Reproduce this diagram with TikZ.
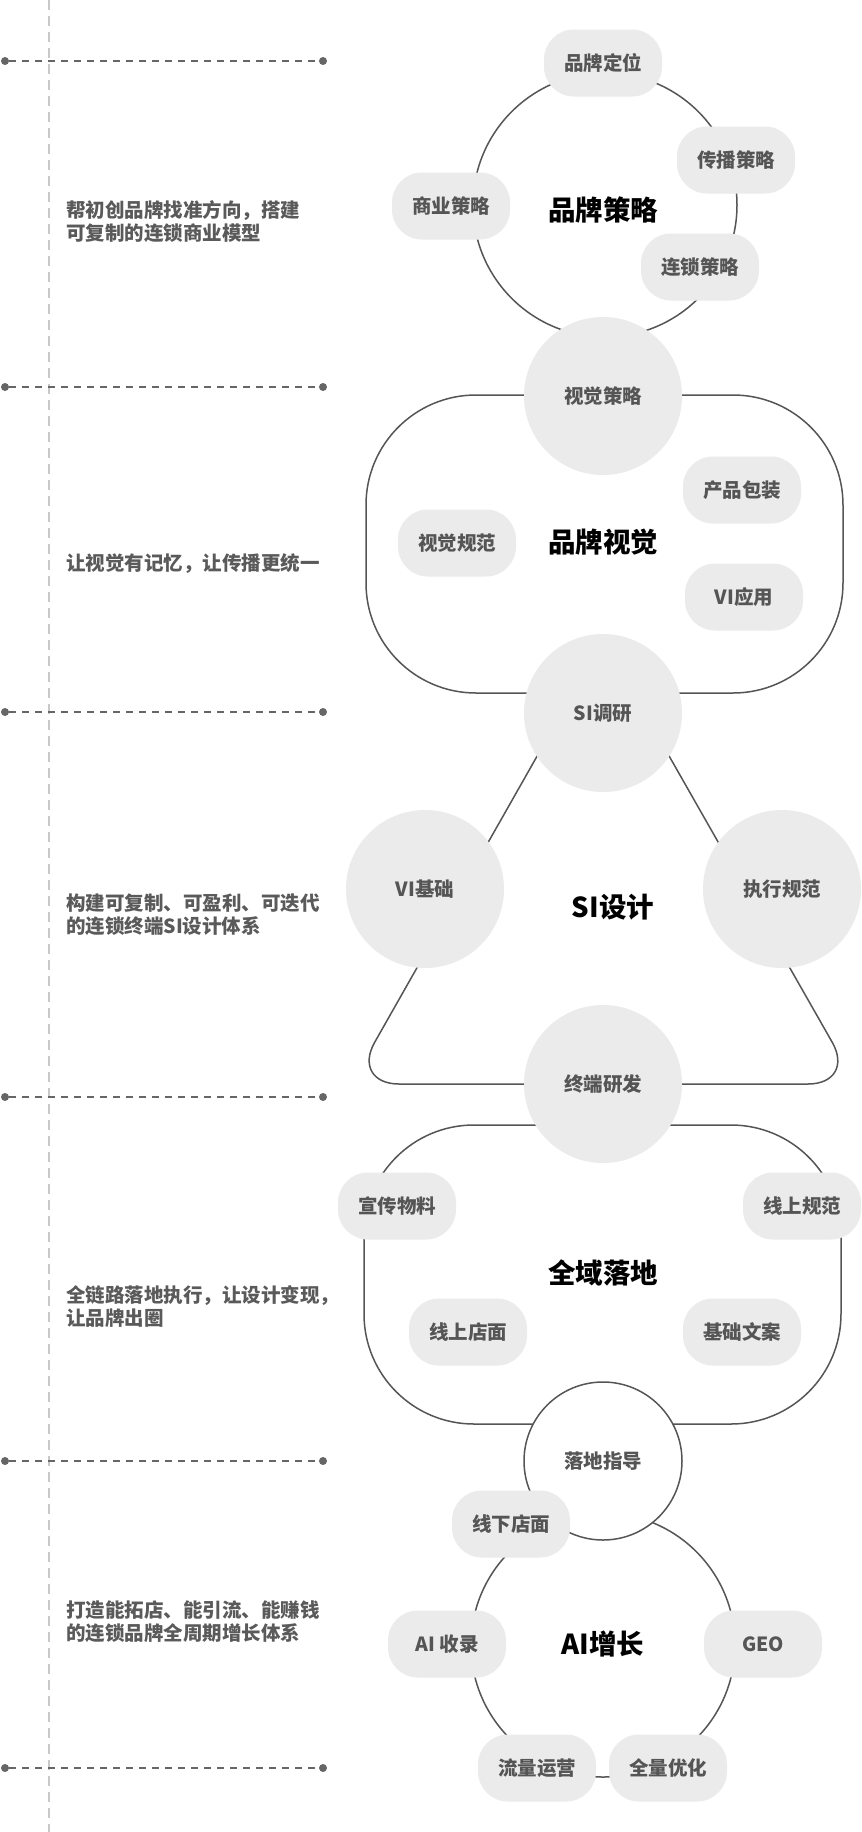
\documentclass[tikz,border=0pt]{standalone}
\usepackage{fontspec}
\setmainfont{Noto Sans CJK SC}
\definecolor{ringgray}{HTML}{555555}
\definecolor{pillgray}{HTML}{EBEBEB}
\definecolor{textgray}{HTML}{555555}
\definecolor{notegray}{HTML}{5A5A5A}
\definecolor{guidegray}{HTML}{666666}
\definecolor{axisgray}{HTML}{C8C8C8}
\tikzset{
	pillnode/.style={rectangle, fill=pillgray, rounded corners=30pt, minimum width=118pt, minimum height=67pt, inner sep=0pt, text=textgray, font=\fontsize{19.5}{23}\selectfont\bfseries},
	bignode/.style={circle, fill=pillgray, minimum size=158pt, inner sep=0pt, text=textgray, font=\fontsize{19.5}{23}\selectfont\bfseries},
	titletext/.style={inner sep=0pt, text=black, font=\fontsize{27.5}{32}\selectfont\bfseries},
	sidenote/.style={anchor=west, align=left, inner sep=0pt, text=notegray, font=\fontsize{19.5}{23}\selectfont\bfseries},
	ringline/.style={draw=ringgray, line width=1.5pt},
	guideline/.style={draw=guidegray, line width=2pt, dash pattern=on 7pt off 6pt},
	guidedot/.style={circle, fill=guidegray, minimum size=8pt, inner sep=0pt},
}
\begin{document}
\begin{tikzpicture}[x=1pt, y=-1pt]
	\useasboundingbox[fill=white] (0,0) rectangle (862,1832);
	% left axis
	\coordinate (axtop) at (49,0);
	\coordinate (axbot) at (49,1832);
	\draw[axisgray, line width=1.5pt, dash pattern=on 10pt off 6pt] (axtop)--(axbot);
	% guide lines
	\node[guidedot] (g1a) at (5,61) {};    \node[guidedot] (g1b) at (323,61) {};
	\node[guidedot] (g2a) at (5,387) {};   \node[guidedot] (g2b) at (323,387) {};
	\node[guidedot] (g3a) at (5,712) {};   \node[guidedot] (g3b) at (323,712) {};
	\node[guidedot] (g4a) at (5,1097) {};  \node[guidedot] (g4b) at (323,1097) {};
	\node[guidedot] (g5a) at (5,1461) {};  \node[guidedot] (g5b) at (323,1461) {};
	\node[guidedot] (g6a) at (5,1768) {};  \node[guidedot] (g6b) at (323,1768) {};
	\draw[guideline] (g1a)--(g1b);
	\draw[guideline] (g2a)--(g2b);
	\draw[guideline] (g3a)--(g3b);
	\draw[guideline] (g4a)--(g4b);
	\draw[guideline] (g5a)--(g5b);
	\draw[guideline] (g6a)--(g6b);
	% side notes
	\node[sidenote] (n1) at (66,222) {帮初创品牌找准方向，搭建\\可复制的连锁商业模型};
	\node[sidenote] (n2) at (66,564) {让视觉有记忆，让传播更统一};
	\node[sidenote] (n3) at (66,915) {构建可复制、可盈利、可迭代\\的连锁终端SI设计体系};
	\node[sidenote] (n4) at (66,1306) {全链路落地执行，让设计变现，\\让品牌出圈};
	\node[sidenote] (n5) at (66,1622) {打造能拓店、能引流、能赚钱\\的连锁品牌全周期增长体系};
	% outlines
	\node[ringline, circle, minimum size=264pt, inner sep=0pt] (ring1) at (605,205) {};
	\node[ringline, rectangle, rounded corners=110pt, minimum width=477pt, minimum height=298pt, inner sep=0pt] (box2) at (604.5,544) {};
	\coordinate (tri1) at (603,640);
	\coordinate (tri2) at (351,1084);
	\coordinate (tri3) at (856,1084);
	\draw[ringline, rounded corners=48pt] (tri1)--(tri2)--(tri3)--cycle;
	\node[ringline, rectangle, rounded corners=110pt, minimum width=477pt, minimum height=299pt, inner sep=0pt] (box4) at (602.5,1274.5) {};
	\node[ringline, circle, minimum size=264pt, inner sep=0pt] (ring5) at (603,1645) {};
	\node[ringline, circle, fill=white, minimum size=158pt, inner sep=0pt, text=textgray, font=\fontsize{19.5}{23}\selectfont\bfseries] (guide) at (603,1461) {落地指导};
	% part 1
	\node[pillnode] (p11) at (603,63) {品牌定位};
	\node[pillnode] (p12) at (736,160) {传播策略};
	\node[pillnode] (p13) at (451,206) {商业策略};
	\node[pillnode] (p14) at (700,267) {连锁策略};
	\node[titletext] (t1) at (603,210) {品牌策略};
	% part 2
	\node[bignode] (c21) at (603,396) {视觉策略};
	\node[pillnode] (p21) at (742,490) {产品包装};
	\node[pillnode] (p22) at (457,543) {视觉规范};
	\node[pillnode] (p23) at (744,597) {VI应用};
	\node[titletext] (t2) at (603,542) {品牌视觉};
	% part 3
	\node[bignode] (c31) at (603,713) {SI调研};
	\node[bignode] (c32) at (425,889) {VI基础};
	\node[bignode] (c33) at (782,889) {执行规范};
	\node[bignode] (c34) at (603,1084) {终端研发};
	\node[titletext] (t3) at (613,907) {SI设计};
	% part 4
	\node[pillnode] (p41) at (397,1206) {宣传物料};
	\node[pillnode] (p42) at (802,1206) {线上规范};
	\node[pillnode] (p43) at (468,1332) {线上店面};
	\node[pillnode] (p44) at (742,1332) {基础文案};
	\node[titletext] (t4) at (603,1273) {全域落地};
	% part 5
	\node[pillnode] (p51) at (511,1524) {线下店面};
	\node[pillnode] (p52) at (447,1644) {AI 收录};
	\node[pillnode] (p53) at (763,1644) {GEO};
	\node[pillnode] (p54) at (537,1768) {流量运营};
	\node[pillnode] (p55) at (668,1768) {全量优化};
	\node[titletext] (t5) at (603,1644) {AI增长};
\end{tikzpicture}
\end{document}
